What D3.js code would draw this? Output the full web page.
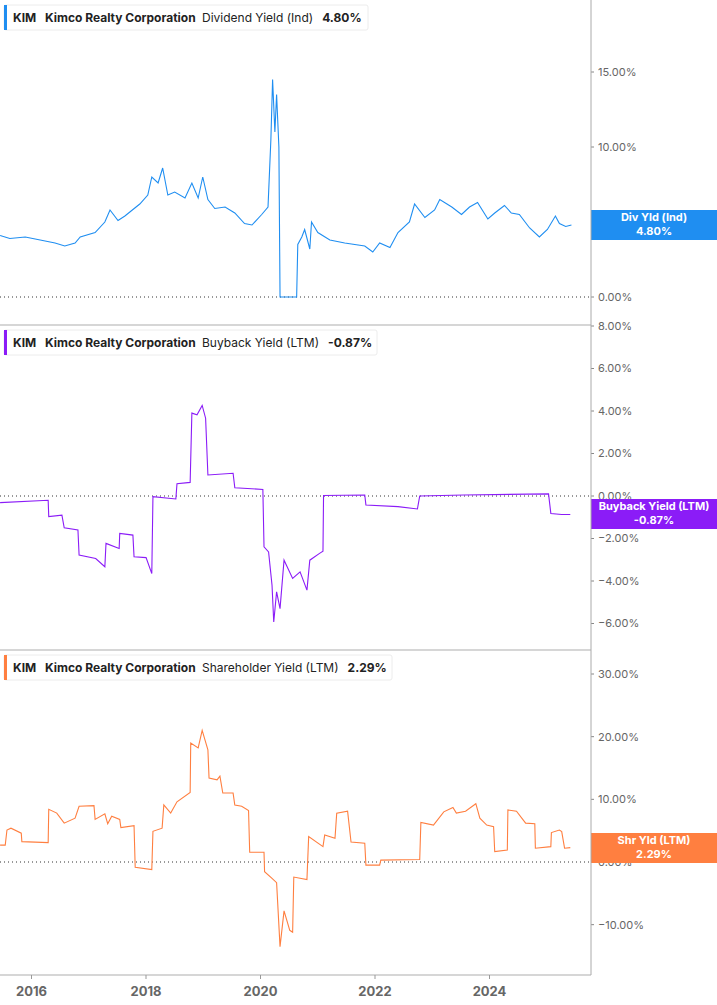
<!DOCTYPE html>
<html><head><meta charset="utf-8">
<script src="https://cdn.jsdelivr.net/npm/d3@7.9.0/dist/d3.min.js"></script>
<style>body{margin:0;background:#fff;font-family:Inter,"Noto Sans",sans-serif}</style>
</head><body><svg id="chart" width="717" height="1005"></svg>
<script>
// ---------------- data (decimal year, % value) ----------------
const divYield = [[2015.46,4.1],[2015.63,3.9],[2015.90,4.0],[2016.16,3.8],[2016.42,3.6],[2016.59,3.4],[2016.77,3.6],[2016.86,4.0],[2017.12,4.3],[2017.29,5.0],[2017.38,5.8],[2017.52,5.1],[2017.64,5.4],[2017.90,6.2],[2018.04,6.8],[2018.11,8.0],[2018.22,7.6],[2018.30,8.6],[2018.39,6.8],[2018.51,7.0],[2018.69,6.6],[2018.81,7.6],[2018.92,6.6],[2019.00,8.0],[2019.09,6.5],[2019.21,5.9],[2019.39,6.0],[2019.56,5.6],[2019.73,4.9],[2019.86,4.8],[2020.03,5.5],[2020.14,6.0],[2020.19,10.5],[2020.22,14.5],[2020.26,11.0],[2020.29,13.5],[2020.33,10.0],[2020.35,0],[2020.64,0],[2020.66,3.5],[2020.73,4.0],[2020.78,4.5],[2020.87,3.2],[2020.90,5.0],[2021.01,4.3],[2021.22,3.8],[2021.48,3.6],[2021.83,3.4],[2021.97,3.0],[2022.09,3.6],[2022.27,3.3],[2022.41,4.3],[2022.61,5.0],[2022.70,6.2],[2022.88,5.3],[2023.05,5.8],[2023.14,6.5],[2023.35,6.0],[2023.52,5.5],[2023.66,6.0],[2023.80,6.3],[2023.98,5.2],[2024.10,5.6],[2024.27,6.1],[2024.39,5.6],[2024.53,5.5],[2024.71,4.6],[2024.88,4.0],[2025.02,4.5],[2025.16,5.4],[2025.23,4.9],[2025.34,4.7],[2025.44,4.8]];
const buybackYield = [[2015.46,-0.31],[2016.30,-0.2],[2016.31,-0.97],[2016.54,-0.9],[2016.58,-1.5],[2016.82,-1.6],[2016.84,-2.78],[2017.13,-2.94],[2017.29,-3.33],[2017.31,-2.23],[2017.54,-2.47],[2017.55,-1.76],[2017.78,-1.84],[2017.80,-2.86],[2018.01,-2.9],[2018.11,-3.65],[2018.13,-0.03],[2018.53,-0.14],[2018.55,0.58],[2018.78,0.64],[2018.81,3.9],[2018.90,3.82],[2018.99,4.26],[2019.05,3.66],[2019.09,0.99],[2019.53,1.07],[2019.56,0.39],[2020.05,0.31],[2020.07,-2.39],[2020.15,-2.63],[2020.21,-4.2],[2020.24,-5.93],[2020.29,-4.51],[2020.35,-5.3],[2020.42,-3.02],[2020.57,-3.88],[2020.70,-3.57],[2020.82,-4.43],[2020.87,-3.02],[2021.04,-2.7],[2021.10,-2.6],[2021.11,0.02],[2021.83,0.05],[2021.85,-0.42],[2022.41,-0.5],[2022.75,-0.61],[2022.79,0.0],[2023.56,0.05],[2025.04,0.1],[2025.08,-0.82],[2025.27,-0.87],[2025.42,-0.87]];
const shareholderYield = [[2015.46,2.7],[2015.55,2.7],[2015.58,5.1],[2015.65,5.4],[2015.83,4.6],[2015.84,3.25],[2016.30,3.1],[2016.31,8.4],[2016.45,7.8],[2016.58,6.2],[2016.77,7.0],[2016.84,8.9],[2017.10,9.0],[2017.12,6.8],[2017.29,7.7],[2017.34,6.1],[2017.41,7.3],[2017.55,6.8],[2017.57,5.5],[2017.80,5.8],[2017.82,-0.85],[2018.11,-1.2],[2018.13,4.9],[2018.29,5.4],[2018.32,9.1],[2018.44,7.8],[2018.55,9.6],[2018.78,11.1],[2018.79,19.0],[2018.92,18.2],[2018.99,21.0],[2019.09,17.9],[2019.11,13.4],[2019.25,13.1],[2019.30,13.7],[2019.35,11.0],[2019.53,11.0],[2019.56,9.1],[2019.68,8.9],[2019.80,8.2],[2019.82,1.55],[2020.07,1.55],[2020.08,-1.55],[2020.21,-2.6],[2020.29,-3.3],[2020.35,-13.5],[2020.42,-7.8],[2020.52,-10.9],[2020.57,-11.2],[2020.59,-2.4],[2020.82,-2.8],[2020.85,4.05],[2021.10,2.45],[2021.13,4.3],[2021.31,3.8],[2021.34,7.8],[2021.53,8.1],[2021.59,3.2],[2021.83,3.0],[2021.85,-0.5],[2022.09,-0.5],[2022.11,0.3],[2022.79,0.4],[2022.81,6.3],[2023.03,5.9],[2023.21,8.0],[2023.37,8.7],[2023.43,7.8],[2023.59,8.1],[2023.77,9.3],[2023.84,7.0],[2023.96,5.9],[2024.08,5.65],[2024.10,1.65],[2024.32,1.9],[2024.33,8.3],[2024.48,8.1],[2024.64,6.2],[2024.80,6.1],[2024.81,2.2],[2025.08,2.45],[2025.09,4.7],[2025.23,5.1],[2025.27,4.85],[2025.32,2.2],[2025.42,2.29]];

const xTicks = [2016, 2018, 2020, 2022, 2024];
const divTicks = [0, 5, 10, 15];
const buyTicks = [-6, -4, -2, 0, 2, 4, 6, 8];
const shrTicks = [-10, 0, 10, 20, 30];

const panels = [
  {data: divYield, color: "#1f8ef1", top: 0, bottom: 325, domain: [0, 15], range: [297, 72], ticks: divTicks,
   metric: "Dividend Yield (Ind)", last: "4.80%", tag: "Div Yld (Ind)", tagY: 225, legW: 364},
  {data: buybackYield, color: "#8b1cf7", top: 325, bottom: 650, domain: [0, 8], range: [496, 326], ticks: buyTicks,
   metric: "Buyback Yield (LTM)", last: "-0.87%", tag: "Buyback Yield (LTM)", tagY: 514, legW: 373},
  {data: shareholderYield, color: "#ff7f40", top: 650, bottom: 975, domain: [0, 30], range: [862, 674], ticks: shrTicks,
   metric: "Shareholder Yield (LTM)", last: "2.29%", tag: "Shr Yld (LTM)", tagY: 848, legW: 388}
];

const svg = d3.select("#chart");
const axisX = 591;
const x = d3.scaleLinear().domain([2016, 2024]).range([31, 489]);

panels.forEach(p => {
  const y = d3.scaleLinear().domain(p.domain).range(p.range);
  const g = svg.append("g");
  const clip = "clip" + p.top;
  svg.append("clipPath").attr("id", clip).append("rect")
    .attr("x", 0).attr("y", p.top).attr("width", axisX).attr("height", p.bottom - p.top);

  // panel bottom separator
  g.append("line").attr("x1", 0).attr("x2", axisX).attr("y1", p.bottom).attr("y2", p.bottom)
    .attr("stroke", "#c8c8c8").attr("stroke-width", 1.5);

  // zero line
  g.append("line").attr("x1", 0).attr("x2", axisX).attr("y1", y(0)).attr("y2", y(0))
    .attr("stroke", "#333").attr("stroke-dasharray", "1,3");

  // right ticks
  p.ticks.forEach(t => {
    const ty = y(t);
    if (ty < p.top - 2 || ty > p.bottom) return;
    g.append("line").attr("x1", axisX).attr("x2", axisX + 3).attr("y1", ty).attr("y2", ty).attr("stroke", "#888");
    g.append("text").attr("x", axisX + 7).attr("y", ty).attr("dy", "0.35em")
      .attr("font-size", 11).attr("fill", "#666").text(d3.format(".2f")(t) + "%");
  });

  // line
  g.append("path").datum(p.data).attr("clip-path", `url(#${clip})`)
    .attr("d", d3.line().x(d => x(d[0])).y(d => y(d[1])))
    .attr("fill", "none").attr("stroke", p.color).attr("stroke-width", 1.1);

  // value tag
  g.append("rect").attr("x", axisX).attr("y", p.tagY - 15).attr("width", 717 - axisX).attr("height", 30).attr("fill", p.color);
  g.append("text").attr("x", 654).attr("y", p.tagY - 4).attr("text-anchor", "middle").attr("font-size", 11)
    .attr("font-weight", "bold").attr("fill", "#fff").text(p.tag);
  g.append("text").attr("x", 654).attr("y", p.tagY + 10).attr("text-anchor", "middle").attr("font-size", 11)
    .attr("font-weight", "bold").attr("fill", "#fff").text(p.last);

  // legend box
  const ly = p.top + 5;
  g.append("rect").attr("x", 4).attr("y", ly).attr("width", p.legW).attr("height", 25).attr("rx", 2)
    .attr("fill", "#fff").attr("stroke", "#ececec");
  g.append("rect").attr("x", 4).attr("y", ly).attr("width", 3).attr("height", 25).attr("fill", p.color);
  const lt = g.append("text").attr("x", 13).attr("y", ly + 17).attr("font-size", 12).attr("fill", "#222");
  lt.append("tspan").attr("font-weight", "bold").text("KIM");
  lt.append("tspan").attr("x", 45).attr("font-weight", "bold").text("Kimco Realty Corporation");
  lt.append("tspan").attr("x", 202).text(p.metric);
  lt.append("tspan").attr("dx", 9).attr("font-weight", "bold").text(p.last);
});

// right axis line
svg.append("line").attr("x1", axisX).attr("x2", axisX).attr("y1", 0).attr("y2", 975).attr("stroke", "#aaa");

// bottom axis
const xa = svg.append("g").attr("transform", "translate(0,975)")
  .call(d3.axisBottom(x).tickValues(xTicks).tickFormat(d3.format("d")).tickSize(4));
xa.select(".domain").remove();
xa.selectAll("line").attr("stroke", "#999");
xa.selectAll("text").attr("font-size", 13).attr("font-weight", "bold").attr("fill", "#666").attr("dy", "1.1em")
  .attr("font-family", "Inter, sans-serif");
</script></body></html>
